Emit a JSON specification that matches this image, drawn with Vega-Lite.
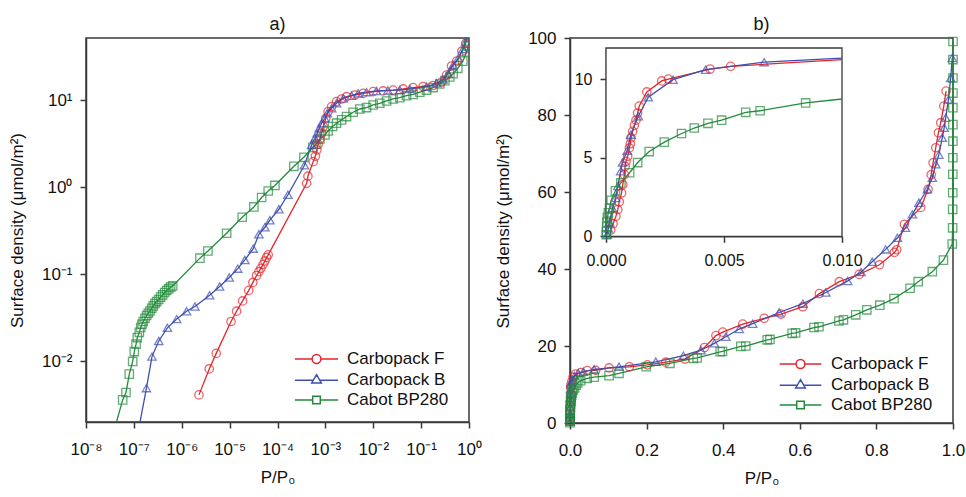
{
  "$schema": "https://vega.github.io/schema/vega-lite/v6.json",
  "background": "white",
  "padding": {"left": 7, "top": 14, "right": 0, "bottom": 0},
  "spacing": 10,
  "config": {
    "font": "Liberation Sans",
    "view": {"stroke": "#3a3a3a", "strokeWidth": 1.5},
    "axis": {"grid": false, "labelFlush": false, "domainColor": "#3a3a3a", "domainWidth": 1.5, "tickColor": "#3a3a3a", "tickWidth": 1.5, "tickSize": 6, "labelFontSize": 17, "labelColor": "#111111", "labelPadding": 8, "titleFontSize": 17, "titleFontWeight": "normal", "titleColor": "#111111"},
    "axisX": {"labelPadding": 13},
    "legend": {"labelFontSize": 17, "labelColor": "#111111", "padding": 0, "rowPadding": 2.5, "symbolSize": 64, "symbolStrokeWidth": 1.5},
    "title": {"fontSize": 18, "fontWeight": "normal", "anchor": "middle", "frame": "group", "color": "#111111"}
  },
  "resolve": {"scale": {"color": "independent", "shape": "independent"}, "legend": {"color": "independent", "shape": "independent"}},
  "datasets": {
    "a": [
      {"material": "Cabot BP280", "p": 3.49e-8, "density": 0.0013},
      {"material": "Cabot BP280", "p": 5.83e-8, "density": 0.00359},
      {"material": "Cabot BP280", "p": 6.84e-8, "density": 0.00437},
      {"material": "Cabot BP280", "p": 8.02e-8, "density": 0.0071},
      {"material": "Cabot BP280", "p": 9.44e-8, "density": 0.00993},
      {"material": "Cabot BP280", "p": 1.02e-7, "density": 0.0129},
      {"material": "Cabot BP280", "p": 1.11e-7, "density": 0.0157},
      {"material": "Cabot BP280", "p": 1.18e-7, "density": 0.0187},
      {"material": "Cabot BP280", "p": 1.30e-7, "density": 0.0215},
      {"material": "Cabot BP280", "p": 1.39e-7, "density": 0.0244},
      {"material": "Cabot BP280", "p": 1.48e-7, "density": 0.0266},
      {"material": "Cabot BP280", "p": 1.57e-7, "density": 0.0286},
      {"material": "Cabot BP280", "p": 1.71e-7, "density": 0.0312},
      {"material": "Cabot BP280", "p": 1.85e-7, "density": 0.0335},
      {"material": "Cabot BP280", "p": 2.00e-7, "density": 0.0356},
      {"material": "Cabot BP280", "p": 2.17e-7, "density": 0.0378},
      {"material": "Cabot BP280", "p": 2.36e-7, "density": 0.0406},
      {"material": "Cabot BP280", "p": 2.54e-7, "density": 0.0433},
      {"material": "Cabot BP280", "p": 2.76e-7, "density": 0.0461},
      {"material": "Cabot BP280", "p": 2.99e-7, "density": 0.0485},
      {"material": "Cabot BP280", "p": 3.30e-7, "density": 0.0512},
      {"material": "Cabot BP280", "p": 3.62e-7, "density": 0.0545},
      {"material": "Cabot BP280", "p": 3.99e-7, "density": 0.0578},
      {"material": "Cabot BP280", "p": 4.40e-7, "density": 0.0617},
      {"material": "Cabot BP280", "p": 4.84e-7, "density": 0.065},
      {"material": "Cabot BP280", "p": 5.33e-7, "density": 0.0678},
      {"material": "Cabot BP280", "p": 5.86e-7, "density": 0.071},
      {"material": "Cabot BP280", "p": 6.46e-7, "density": 0.0734},
      {"material": "Cabot BP280", "p": 2.40e-6, "density": 0.153},
      {"material": "Cabot BP280", "p": 3.52e-6, "density": 0.185},
      {"material": "Cabot BP280", "p": 8.65e-6, "density": 0.296},
      {"material": "Cabot BP280", "p": 1.83e-5, "density": 0.452},
      {"material": "Cabot BP280", "p": 3.21e-5, "density": 0.594},
      {"material": "Cabot BP280", "p": 4.66e-5, "density": 0.762},
      {"material": "Cabot BP280", "p": 6.40e-5, "density": 0.906},
      {"material": "Cabot BP280", "p": 8.83e-5, "density": 1.05},
      {"material": "Cabot BP280", "p": 2.20e-4, "density": 1.74},
      {"material": "Cabot BP280", "p": 3.56e-4, "density": 2.21},
      {"material": "Cabot BP280", "p": 5.48e-4, "density": 2.88},
      {"material": "Cabot BP280", "p": 6.34e-4, "density": 3.12},
      {"material": "Cabot BP280", "p": 7.67e-4, "density": 3.59},
      {"material": "Cabot BP280", "p": 9.77e-4, "density": 3.99},
      {"material": "Cabot BP280", "p": 1.14e-3, "density": 4.44},
      {"material": "Cabot BP280", "p": 1.41e-3, "density": 4.99},
      {"material": "Cabot BP280", "p": 1.71e-3, "density": 5.45},
      {"material": "Cabot BP280", "p": 2.18e-3, "density": 5.95},
      {"material": "Cabot BP280", "p": 2.77e-3, "density": 6.5},
      {"material": "Cabot BP280", "p": 3.80e-3, "density": 7.28},
      {"material": "Cabot BP280", "p": 5.25e-3, "density": 7.94},
      {"material": "Cabot BP280", "p": 7.24e-3, "density": 8.24},
      {"material": "Cabot BP280", "p": 9.95e-3, "density": 8.83},
      {"material": "Cabot BP280", "p": 0.0137, "density": 9.24},
      {"material": "Cabot BP280", "p": 0.019, "density": 9.82},
      {"material": "Cabot BP280", "p": 0.026, "density": 10.35},
      {"material": "Cabot BP280", "p": 0.0359, "density": 10.7},
      {"material": "Cabot BP280", "p": 0.0495, "density": 11.3},
      {"material": "Cabot BP280", "p": 0.0681, "density": 11.7},
      {"material": "Cabot BP280", "p": 0.094, "density": 12.4},
      {"material": "Cabot BP280", "p": 0.13, "density": 13.1},
      {"material": "Cabot BP280", "p": 0.178, "density": 14.0},
      {"material": "Cabot BP280", "p": 0.245, "density": 15.4},
      {"material": "Cabot BP280", "p": 0.313, "density": 16.8},
      {"material": "Cabot BP280", "p": 0.397, "density": 18.5},
      {"material": "Cabot BP280", "p": 0.466, "density": 20.2},
      {"material": "Cabot BP280", "p": 0.583, "density": 23.3},
      {"material": "Cabot BP280", "p": 0.743, "density": 28.2},
      {"material": "Cabot BP280", "p": 0.9, "density": 36},
      {"material": "Cabot BP280", "p": 0.97, "density": 42},
      {"material": "Cabot BP280", "p": 0.998, "density": 46.5},
      {"material": "Cabot BP280", "p": 0.9995, "density": 60},
      {"material": "Carbopack F", "p": 2.29e-6, "density": 0.0041},
      {"material": "Carbopack F", "p": 3.75e-6, "density": 0.00815},
      {"material": "Carbopack F", "p": 5.25e-6, "density": 0.0123},
      {"material": "Carbopack F", "p": 1.07e-5, "density": 0.0286},
      {"material": "Carbopack F", "p": 1.40e-5, "density": 0.0376},
      {"material": "Carbopack F", "p": 1.87e-5, "density": 0.0493},
      {"material": "Carbopack F", "p": 2.51e-5, "density": 0.0652},
      {"material": "Carbopack F", "p": 3.06e-5, "density": 0.0805},
      {"material": "Carbopack F", "p": 3.66e-5, "density": 0.0966},
      {"material": "Carbopack F", "p": 4.09e-5, "density": 0.107},
      {"material": "Carbopack F", "p": 4.50e-5, "density": 0.117},
      {"material": "Carbopack F", "p": 5.02e-5, "density": 0.13},
      {"material": "Carbopack F", "p": 5.46e-5, "density": 0.142},
      {"material": "Carbopack F", "p": 5.92e-5, "density": 0.156},
      {"material": "Carbopack F", "p": 6.40e-5, "density": 0.167},
      {"material": "Carbopack F", "p": 4.06e-4, "density": 1.11},
      {"material": "Carbopack F", "p": 4.32e-4, "density": 1.34},
      {"material": "Carbopack F", "p": 5.56e-4, "density": 1.97},
      {"material": "Carbopack F", "p": 6.18e-4, "density": 2.27},
      {"material": "Carbopack F", "p": 6.65e-4, "density": 2.69},
      {"material": "Carbopack F", "p": 7.08e-4, "density": 3.12},
      {"material": "Carbopack F", "p": 7.67e-4, "density": 3.56},
      {"material": "Carbopack F", "p": 8.34e-4, "density": 4.18},
      {"material": "Carbopack F", "p": 9.00e-4, "density": 4.99},
      {"material": "Carbopack F", "p": 1.02e-3, "density": 6.21},
      {"material": "Carbopack F", "p": 1.14e-3, "density": 7.41},
      {"material": "Carbopack F", "p": 1.35e-3, "density": 8.47},
      {"material": "Carbopack F", "p": 1.71e-3, "density": 9.66},
      {"material": "Carbopack F", "p": 2.18e-3, "density": 10.35},
      {"material": "Carbopack F", "p": 2.77e-3, "density": 11.0},
      {"material": "Carbopack F", "p": 4.13e-3, "density": 11.5},
      {"material": "Carbopack F", "p": 6.15e-3, "density": 12.0},
      {"material": "Carbopack F", "p": 9.95e-3, "density": 12.6},
      {"material": "Carbopack F", "p": 0.0161, "density": 12.8},
      {"material": "Carbopack F", "p": 0.026, "density": 13.1},
      {"material": "Carbopack F", "p": 0.0421, "density": 13.5},
      {"material": "Carbopack F", "p": 0.0681, "density": 14.0},
      {"material": "Carbopack F", "p": 0.11, "density": 14.4},
      {"material": "Carbopack F", "p": 0.178, "density": 14.8},
      {"material": "Carbopack F", "p": 0.267, "density": 16.2},
      {"material": "Carbopack F", "p": 0.339, "density": 19.5},
      {"material": "Carbopack F", "p": 0.432, "density": 24.8},
      {"material": "Carbopack F", "p": 0.556, "density": 28.3},
      {"material": "Carbopack F", "p": 0.708, "density": 36.7},
      {"material": "Carbopack F", "p": 0.857, "density": 45.5},
      {"material": "Carbopack F", "p": 0.93, "density": 60},
      {"material": "Carbopack F", "p": 0.98, "density": 86},
      {"material": "Carbopack B", "p": 1.16e-7, "density": 0.0013},
      {"material": "Carbopack B", "p": 1.83e-7, "density": 0.0049},
      {"material": "Carbopack B", "p": 2.39e-7, "density": 0.0113},
      {"material": "Carbopack B", "p": 3.31e-7, "density": 0.0171},
      {"material": "Carbopack B", "p": 5.02e-7, "density": 0.0242},
      {"material": "Carbopack B", "p": 7.84e-7, "density": 0.0305},
      {"material": "Carbopack B", "p": 1.26e-6, "density": 0.0376},
      {"material": "Carbopack B", "p": 1.89e-6, "density": 0.0426},
      {"material": "Carbopack B", "p": 3.82e-6, "density": 0.0574},
      {"material": "Carbopack B", "p": 6.18e-6, "density": 0.0723},
      {"material": "Carbopack B", "p": 9.82e-6, "density": 0.0917},
      {"material": "Carbopack B", "p": 1.48e-5, "density": 0.116},
      {"material": "Carbopack B", "p": 2.08e-5, "density": 0.146},
      {"material": "Carbopack B", "p": 3.11e-5, "density": 0.197},
      {"material": "Carbopack B", "p": 4.09e-5, "density": 0.288},
      {"material": "Carbopack B", "p": 5.46e-5, "density": 0.347},
      {"material": "Carbopack B", "p": 6.93e-5, "density": 0.418},
      {"material": "Carbopack B", "p": 1.07e-4, "density": 0.558},
      {"material": "Carbopack B", "p": 1.65e-4, "density": 0.82},
      {"material": "Carbopack B", "p": 3.65e-4, "density": 1.79},
      {"material": "Carbopack B", "p": 5.15e-4, "density": 3.06},
      {"material": "Carbopack B", "p": 6.04e-4, "density": 3.66},
      {"material": "Carbopack B", "p": 6.75e-4, "density": 4.18},
      {"material": "Carbopack B", "p": 7.43e-4, "density": 4.76},
      {"material": "Carbopack B", "p": 8.34e-4, "density": 5.45},
      {"material": "Carbopack B", "p": 9.77e-4, "density": 6.21},
      {"material": "Carbopack B", "p": 1.09e-3, "density": 7.1},
      {"material": "Carbopack B", "p": 1.35e-3, "density": 8.09},
      {"material": "Carbopack B", "p": 1.71e-3, "density": 9.24},
      {"material": "Carbopack B", "p": 2.36e-3, "density": 10.5},
      {"material": "Carbopack B", "p": 3.52e-3, "density": 11.3},
      {"material": "Carbopack B", "p": 4.84e-3, "density": 12.0},
      {"material": "Carbopack B", "p": 7.24e-3, "density": 12.4},
      {"material": "Carbopack B", "p": 0.0117, "density": 12.8},
      {"material": "Carbopack B", "p": 0.0202, "density": 13.0},
      {"material": "Carbopack B", "p": 0.0359, "density": 13.1},
      {"material": "Carbopack B", "p": 0.0581, "density": 13.5},
      {"material": "Carbopack B", "p": 0.13, "density": 14.3},
      {"material": "Carbopack B", "p": 0.21, "density": 15.7},
      {"material": "Carbopack B", "p": 0.288, "density": 17.3},
      {"material": "Carbopack B", "p": 0.366, "density": 20.2},
      {"material": "Carbopack B", "p": 0.466, "density": 25.4},
      {"material": "Carbopack B", "p": 0.6, "density": 30.7},
      {"material": "Carbopack B", "p": 0.75, "density": 38.8},
      {"material": "Carbopack B", "p": 0.85, "density": 47.5},
      {"material": "Carbopack B", "p": 0.95, "density": 66},
      {"material": "Carbopack B", "p": 0.99, "density": 88}
    ],
    "b": [
      {"material": "Carbopack F", "p": 0.0002, "density": 0.5},
      {"material": "Carbopack F", "p": 0.0004, "density": 1.5},
      {"material": "Carbopack F", "p": 0.0006, "density": 3.0},
      {"material": "Carbopack F", "p": 0.0008, "density": 4.2},
      {"material": "Carbopack F", "p": 0.001, "density": 5.6},
      {"material": "Carbopack F", "p": 0.0013, "density": 7.5},
      {"material": "Carbopack F", "p": 0.0017, "density": 9.2},
      {"material": "Carbopack F", "p": 0.0025, "density": 9.9},
      {"material": "Carbopack F", "p": 0.005, "density": 10.8},
      {"material": "Carbopack F", "p": 0.008, "density": 11.9},
      {"material": "Carbopack F", "p": 0.014, "density": 12.7},
      {"material": "Carbopack F", "p": 0.028, "density": 13.1},
      {"material": "Carbopack F", "p": 0.045, "density": 13.6},
      {"material": "Carbopack F", "p": 0.067, "density": 13.65},
      {"material": "Carbopack F", "p": 0.102, "density": 14.3},
      {"material": "Carbopack F", "p": 0.155, "density": 14.6},
      {"material": "Carbopack F", "p": 0.202, "density": 15.1},
      {"material": "Carbopack F", "p": 0.25, "density": 15.8},
      {"material": "Carbopack F", "p": 0.3, "density": 16.6},
      {"material": "Carbopack F", "p": 0.351, "density": 19.6},
      {"material": "Carbopack F", "p": 0.381, "density": 22.7},
      {"material": "Carbopack F", "p": 0.399, "density": 23.6},
      {"material": "Carbopack F", "p": 0.451, "density": 25.7},
      {"material": "Carbopack F", "p": 0.507, "density": 27.2},
      {"material": "Carbopack F", "p": 0.551, "density": 28.3},
      {"material": "Carbopack F", "p": 0.608, "density": 30.2},
      {"material": "Carbopack F", "p": 0.651, "density": 33.6},
      {"material": "Carbopack F", "p": 0.703, "density": 36.7},
      {"material": "Carbopack F", "p": 0.755, "density": 38.6},
      {"material": "Carbopack F", "p": 0.808, "density": 41.1},
      {"material": "Carbopack F", "p": 0.847, "density": 44.3},
      {"material": "Carbopack F", "p": 0.853, "density": 45.0},
      {"material": "Carbopack F", "p": 0.873, "density": 51.6},
      {"material": "Carbopack F", "p": 0.916, "density": 56.0},
      {"material": "Carbopack F", "p": 0.935, "density": 60.7},
      {"material": "Carbopack F", "p": 0.943, "density": 64.5},
      {"material": "Carbopack F", "p": 0.948, "density": 67.6},
      {"material": "Carbopack F", "p": 0.955, "density": 71.5},
      {"material": "Carbopack F", "p": 0.962, "density": 75.4},
      {"material": "Carbopack F", "p": 0.968, "density": 78.0},
      {"material": "Carbopack F", "p": 0.976, "density": 82.3},
      {"material": "Carbopack F", "p": 0.982, "density": 86.2},
      {"material": "Carbopack B", "p": 0.0001, "density": 0.3},
      {"material": "Carbopack B", "p": 0.0003, "density": 1.8},
      {"material": "Carbopack B", "p": 0.0004, "density": 2.4},
      {"material": "Carbopack B", "p": 0.0006, "density": 4.1},
      {"material": "Carbopack B", "p": 0.0009, "density": 5.5},
      {"material": "Carbopack B", "p": 0.00105, "density": 6.5},
      {"material": "Carbopack B", "p": 0.0014, "density": 7.7},
      {"material": "Carbopack B", "p": 0.0018, "density": 8.9},
      {"material": "Carbopack B", "p": 0.0028, "density": 10.0},
      {"material": "Carbopack B", "p": 0.0042, "density": 10.6},
      {"material": "Carbopack B", "p": 0.0067, "density": 11.1},
      {"material": "Carbopack B", "p": 0.012, "density": 12.2},
      {"material": "Carbopack B", "p": 0.022, "density": 12.9},
      {"material": "Carbopack B", "p": 0.035, "density": 13.3},
      {"material": "Carbopack B", "p": 0.063, "density": 13.9},
      {"material": "Carbopack B", "p": 0.128, "density": 14.6},
      {"material": "Carbopack B", "p": 0.224, "density": 15.9},
      {"material": "Carbopack B", "p": 0.296, "density": 17.5},
      {"material": "Carbopack B", "p": 0.342, "density": 18.9},
      {"material": "Carbopack B", "p": 0.377, "density": 20.7},
      {"material": "Carbopack B", "p": 0.407, "density": 22.4},
      {"material": "Carbopack B", "p": 0.442, "density": 24.4},
      {"material": "Carbopack B", "p": 0.477, "density": 25.8},
      {"material": "Carbopack B", "p": 0.546, "density": 28.7},
      {"material": "Carbopack B", "p": 0.608, "density": 31.0},
      {"material": "Carbopack B", "p": 0.668, "density": 33.9},
      {"material": "Carbopack B", "p": 0.725, "density": 36.9},
      {"material": "Carbopack B", "p": 0.76, "density": 39.2},
      {"material": "Carbopack B", "p": 0.789, "density": 41.9},
      {"material": "Carbopack B", "p": 0.824, "density": 45.1},
      {"material": "Carbopack B", "p": 0.855, "density": 48.1},
      {"material": "Carbopack B", "p": 0.876, "density": 50.7},
      {"material": "Carbopack B", "p": 0.894, "density": 54.2},
      {"material": "Carbopack B", "p": 0.911, "density": 57.2},
      {"material": "Carbopack B", "p": 0.933, "density": 60.7},
      {"material": "Carbopack B", "p": 0.946, "density": 63.7},
      {"material": "Carbopack B", "p": 0.955, "density": 67.2},
      {"material": "Carbopack B", "p": 0.963, "density": 69.7},
      {"material": "Carbopack B", "p": 0.972, "density": 74.1},
      {"material": "Carbopack B", "p": 0.977, "density": 76.7},
      {"material": "Carbopack B", "p": 0.981, "density": 79.3},
      {"material": "Carbopack B", "p": 0.988, "density": 84.0},
      {"material": "Carbopack B", "p": 0.994, "density": 89.6},
      {"material": "Carbopack B", "p": 0.998, "density": 94.8},
      {"material": "Cabot BP280", "p": 0.00001, "density": 0.1},
      {"material": "Cabot BP280", "p": 0.00003, "density": 0.6},
      {"material": "Cabot BP280", "p": 0.00006, "density": 1.2},
      {"material": "Cabot BP280", "p": 0.0001, "density": 1.5},
      {"material": "Cabot BP280", "p": 0.00022, "density": 2.3},
      {"material": "Cabot BP280", "p": 0.0004, "density": 2.9},
      {"material": "Cabot BP280", "p": 0.00063, "density": 3.4},
      {"material": "Cabot BP280", "p": 0.001, "density": 4.05},
      {"material": "Cabot BP280", "p": 0.00134, "density": 4.7},
      {"material": "Cabot BP280", "p": 0.00183, "density": 5.4},
      {"material": "Cabot BP280", "p": 0.00247, "density": 6.0},
      {"material": "Cabot BP280", "p": 0.0032, "density": 6.55},
      {"material": "Cabot BP280", "p": 0.00432, "density": 7.2},
      {"material": "Cabot BP280", "p": 0.00592, "density": 7.9},
      {"material": "Cabot BP280", "p": 0.00846, "density": 8.5},
      {"material": "Cabot BP280", "p": 0.012, "density": 9.1},
      {"material": "Cabot BP280", "p": 0.016, "density": 9.8},
      {"material": "Cabot BP280", "p": 0.02, "density": 10.4},
      {"material": "Cabot BP280", "p": 0.028, "density": 11.0},
      {"material": "Cabot BP280", "p": 0.045, "density": 11.6},
      {"material": "Cabot BP280", "p": 0.063, "density": 11.9},
      {"material": "Cabot BP280", "p": 0.102, "density": 12.3},
      {"material": "Cabot BP280", "p": 0.128, "density": 12.9},
      {"material": "Cabot BP280", "p": 0.199, "density": 14.6},
      {"material": "Cabot BP280", "p": 0.261, "density": 15.5},
      {"material": "Cabot BP280", "p": 0.322, "density": 16.8},
      {"material": "Cabot BP280", "p": 0.332, "density": 16.9},
      {"material": "Cabot BP280", "p": 0.392, "density": 18.5},
      {"material": "Cabot BP280", "p": 0.398, "density": 18.6},
      {"material": "Cabot BP280", "p": 0.446, "density": 19.9},
      {"material": "Cabot BP280", "p": 0.459, "density": 20.0},
      {"material": "Cabot BP280", "p": 0.515, "density": 21.6},
      {"material": "Cabot BP280", "p": 0.522, "density": 21.7},
      {"material": "Cabot BP280", "p": 0.58, "density": 23.3},
      {"material": "Cabot BP280", "p": 0.589, "density": 23.4},
      {"material": "Cabot BP280", "p": 0.637, "density": 24.8},
      {"material": "Cabot BP280", "p": 0.65, "density": 25.0},
      {"material": "Cabot BP280", "p": 0.702, "density": 26.5},
      {"material": "Cabot BP280", "p": 0.714, "density": 26.8},
      {"material": "Cabot BP280", "p": 0.746, "density": 28.1},
      {"material": "Cabot BP280", "p": 0.775, "density": 29.4},
      {"material": "Cabot BP280", "p": 0.809, "density": 30.6},
      {"material": "Cabot BP280", "p": 0.846, "density": 32.3},
      {"material": "Cabot BP280", "p": 0.888, "density": 35.0},
      {"material": "Cabot BP280", "p": 0.909, "density": 36.7},
      {"material": "Cabot BP280", "p": 0.946, "density": 39.3},
      {"material": "Cabot BP280", "p": 0.975, "density": 42.3},
      {"material": "Cabot BP280", "p": 0.998, "density": 46.5},
      {"material": "Cabot BP280", "p": 0.99905, "density": 50.7},
      {"material": "Cabot BP280", "p": 0.9992, "density": 55.5},
      {"material": "Cabot BP280", "p": 0.99935, "density": 59.8},
      {"material": "Cabot BP280", "p": 0.9995, "density": 64.6},
      {"material": "Cabot BP280", "p": 0.9996, "density": 68.9},
      {"material": "Cabot BP280", "p": 0.9997, "density": 73.2},
      {"material": "Cabot BP280", "p": 0.99975, "density": 77.5},
      {"material": "Cabot BP280", "p": 0.9998, "density": 81.9},
      {"material": "Cabot BP280", "p": 0.99985, "density": 85.7},
      {"material": "Cabot BP280", "p": 0.9999, "density": 89.6},
      {"material": "Cabot BP280", "p": 0.99995, "density": 94.4},
      {"material": "Cabot BP280", "p": 1.0, "density": 99.1}
    ],
    "inset": [
      {"material": "Carbopack F", "p": 0.0002, "density": 0.4},
      {"material": "Carbopack F", "p": 0.0003, "density": 0.8},
      {"material": "Carbopack F", "p": 0.00042, "density": 1.27},
      {"material": "Carbopack F", "p": 0.0005, "density": 1.7},
      {"material": "Carbopack F", "p": 0.00056, "density": 2.2},
      {"material": "Carbopack F", "p": 0.00066, "density": 2.76},
      {"material": "Carbopack F", "p": 0.00071, "density": 3.29},
      {"material": "Carbopack F", "p": 0.00078, "density": 3.93},
      {"material": "Carbopack F", "p": 0.00081, "density": 4.46},
      {"material": "Carbopack F", "p": 0.00085, "density": 4.78},
      {"material": "Carbopack F", "p": 0.00092, "density": 5.1},
      {"material": "Carbopack F", "p": 0.00099, "density": 5.63},
      {"material": "Carbopack F", "p": 0.00103, "density": 5.9},
      {"material": "Carbopack F", "p": 0.00106, "density": 6.27},
      {"material": "Carbopack F", "p": 0.00113, "density": 6.69},
      {"material": "Carbopack F", "p": 0.0012, "density": 7.07},
      {"material": "Carbopack F", "p": 0.00127, "density": 7.4},
      {"material": "Carbopack F", "p": 0.00134, "density": 7.86},
      {"material": "Carbopack F", "p": 0.00141, "density": 8.3},
      {"material": "Carbopack F", "p": 0.00173, "density": 9.2},
      {"material": "Carbopack F", "p": 0.00236, "density": 9.9},
      {"material": "Carbopack F", "p": 0.00264, "density": 10.02},
      {"material": "Carbopack F", "p": 0.00441, "density": 10.66},
      {"material": "Carbopack F", "p": 0.00528, "density": 10.83},
      {"material": "Carbopack F", "p": 0.01, "density": 11.26},
      {"material": "Carbopack B", "p": 0.00005, "density": 0.1},
      {"material": "Carbopack B", "p": 0.0001, "density": 0.5},
      {"material": "Carbopack B", "p": 0.00015, "density": 0.9},
      {"material": "Carbopack B", "p": 0.00027, "density": 1.8},
      {"material": "Carbopack B", "p": 0.00041, "density": 2.44},
      {"material": "Carbopack B", "p": 0.0005, "density": 3.2},
      {"material": "Carbopack B", "p": 0.00062, "density": 4.14},
      {"material": "Carbopack B", "p": 0.0007, "density": 4.7},
      {"material": "Carbopack B", "p": 0.0009, "density": 5.46},
      {"material": "Carbopack B", "p": 0.00105, "density": 6.48},
      {"material": "Carbopack B", "p": 0.00137, "density": 7.65},
      {"material": "Carbopack B", "p": 0.00179, "density": 8.86},
      {"material": "Carbopack B", "p": 0.00284, "density": 9.98},
      {"material": "Carbopack B", "p": 0.00422, "density": 10.62},
      {"material": "Carbopack B", "p": 0.0067, "density": 11.1},
      {"material": "Carbopack B", "p": 0.01, "density": 11.36},
      {"material": "Cabot BP280", "p": 0.00001, "density": 0.1},
      {"material": "Cabot BP280", "p": 0.00002, "density": 0.3},
      {"material": "Cabot BP280", "p": 0.00003, "density": 0.6},
      {"material": "Cabot BP280", "p": 0.00004, "density": 0.9},
      {"material": "Cabot BP280", "p": 0.00006, "density": 1.2},
      {"material": "Cabot BP280", "p": 0.0001, "density": 1.5},
      {"material": "Cabot BP280", "p": 0.00015, "density": 1.8},
      {"material": "Cabot BP280", "p": 0.00022, "density": 2.3},
      {"material": "Cabot BP280", "p": 0.0004, "density": 2.9},
      {"material": "Cabot BP280", "p": 0.00063, "density": 3.4},
      {"material": "Cabot BP280", "p": 0.001, "density": 4.05},
      {"material": "Cabot BP280", "p": 0.00134, "density": 4.7},
      {"material": "Cabot BP280", "p": 0.00183, "density": 5.4},
      {"material": "Cabot BP280", "p": 0.00247, "density": 6.0},
      {"material": "Cabot BP280", "p": 0.0032, "density": 6.55},
      {"material": "Cabot BP280", "p": 0.00374, "density": 6.9},
      {"material": "Cabot BP280", "p": 0.00432, "density": 7.2},
      {"material": "Cabot BP280", "p": 0.0049, "density": 7.4},
      {"material": "Cabot BP280", "p": 0.00592, "density": 7.9},
      {"material": "Cabot BP280", "p": 0.00653, "density": 8.0},
      {"material": "Cabot BP280", "p": 0.00846, "density": 8.5},
      {"material": "Cabot BP280", "p": 0.01, "density": 8.75}
    ]
  },
  "hconcat": [
    {
      "width": 383,
      "height": 384,
      "title": {"text": "a)", "offset": 4},
      "layer": [
        {
          "data": {"name": "a"},
          "mark": {"type": "line", "clip": true, "strokeWidth": 1.3},
          "encoding": {
            "x": {"field": "p", "type": "quantitative", "scale": {"type": "log", "domain": [1e-8, 1], "nice": false},
                  "axis": {"title": "P/P₀", "titlePadding": 12, "values": [1e-8, 1e-7, 1e-6, 1e-5, 1e-4, 1e-3, 1e-2, 1e-1, 1],
                           "labelExpr": "'10' + (datum.value < 0.5 ? '⁻' : '') + ['⁰','¹','²','³','⁴','⁵','⁶','⁷','⁸','⁹'][abs(round(log(datum.value)/LN10))]"}},
            "y": {"field": "density", "type": "quantitative", "scale": {"type": "log", "domain": [0.002, 52], "nice": false},
                  "axis": {"title": "Surface density (μmol/m²)", "titlePadding": 15, "values": [0.01, 0.1, 1, 10],
                           "labelExpr": "'10' + (datum.value < 0.5 ? '⁻' : '') + ['⁰','¹','²','³','⁴','⁵','⁶','⁷','⁸','⁹'][abs(round(log(datum.value)/LN10))]"}},
            "color": {"field": "material", "type": "nominal",
                      "scale": {"domain": ["Carbopack F", "Carbopack B", "Cabot BP280"], "range": ["#e4262c", "#3d4fb3", "#228b3b"]},
                      "legend": {"title": null, "orient": "none", "legendX": 222, "legendY": 312.5, "labelOffset": 22,
                                 "encode": {"symbols": {"update": {
                                   "shape": {"signal": "datum.value === 'Carbopack F' ? 'M-5.4,0H-1.1M1.1,0H5.4M1.1,0A1.1,1.1,0,1,1,-1.1,0A1.1,1.1,0,1,1,1.1,0' : datum.value === 'Carbopack B' ? 'M-5.4,0.2H-0.8M0.8,0.2H5.4M0,-1.2L1.2,0.85L-1.2,0.85Z' : 'M-5.4,0H-0.95M0.95,0H5.4M-0.95,-0.95H0.95V0.95H-0.95Z'"},
                                   "stroke": {"signal": "datum.value === 'Carbopack F' ? '#e4262c' : datum.value === 'Carbopack B' ? '#3d4fb3' : '#228b3b'"},
                                   "fill": {"value": "transparent"},
                                   "strokeWidth": {"value": 1.5},
                                   "size": {"value": 64}
                                 }}}}},
            "order": {"field": "density", "type": "quantitative"}
          }
        },
        {
          "data": {"name": "a"},
          "mark": {"type": "point", "clip": true, "filled": false, "size": 70, "strokeWidth": 1.3},
          "encoding": {
            "x": {"field": "p", "type": "quantitative", "scale": {"type": "log", "domain": [1e-8, 1], "nice": false}},
            "y": {"field": "density", "type": "quantitative", "scale": {"type": "log", "domain": [0.002, 52], "nice": false}},
            "color": {"field": "material", "type": "nominal", "legend": null},
            "shape": {"field": "material", "type": "nominal",
                      "scale": {"domain": ["Carbopack B", "Carbopack F", "Cabot BP280"], "range": ["triangle-up", "circle", "square"]},
                      "legend": null}
          }
        }
      ]
    },
    {
      "width": 383,
      "height": 385,
      "title": {"text": "b)", "offset": -4.5},
      "resolve": {"scale": {"x": "independent", "y": "independent"}},
      "layer": [
        {
          "layer": [
            {
              "data": {"name": "b"},
              "mark": {"type": "line", "strokeWidth": 1.3},
              "encoding": {
                "x": {"field": "p", "type": "quantitative", "scale": {"domain": [0, 1], "nice": false},
                      "axis": {"title": "P/P₀", "titlePadding": 12, "values": [0, 0.2, 0.4, 0.6, 0.8, 1], "format": ".1f"}},
                "y": {"field": "density", "type": "quantitative", "scale": {"domain": [0, 100], "nice": false},
                      "axis": {"title": "Surface density (μmol/m²)", "titlePadding": 15, "values": [0, 20, 40, 60, 80, 100], "format": "d"}},
                "color": {"field": "material", "type": "nominal",
                          "scale": {"domain": ["Carbopack F", "Carbopack B", "Cabot BP280"], "range": ["#e4262c", "#3d4fb3", "#228b3b"]},
                          "legend": {"title": null, "orient": "none", "legendX": 222, "legendY": 317.5, "labelOffset": 22,
                                     "encode": {"symbols": {"update": {
                                       "shape": {"signal": "datum.value === 'Carbopack F' ? 'M-5.2,0H-1.1M1.1,0H5.2M1.1,0A1.1,1.1,0,1,1,-1.1,0A1.1,1.1,0,1,1,1.1,0' : datum.value === 'Carbopack B' ? 'M-5.2,0.2H-0.8M0.8,0.2H5.2M0,-1.2L1.2,0.85L-1.2,0.85Z' : 'M-5.2,0H-0.95M0.95,0H5.2M-0.95,-0.95H0.95V0.95H-0.95Z'"},
                                       "stroke": {"signal": "datum.value === 'Carbopack F' ? '#e4262c' : datum.value === 'Carbopack B' ? '#3d4fb3' : '#228b3b'"},
                                       "fill": {"value": "transparent"},
                                       "strokeWidth": {"value": 1.5},
                                       "size": {"value": 64}
                                     }}}}},
                "order": {"field": "density", "type": "quantitative"}
              }
            },
            {
              "data": {"name": "b"},
              "mark": {"type": "point", "filled": false, "size": 70, "strokeWidth": 1.3},
              "encoding": {
                "x": {"field": "p", "type": "quantitative", "scale": {"domain": [0, 1], "nice": false}},
                "y": {"field": "density", "type": "quantitative", "scale": {"domain": [0, 100], "nice": false}},
                "color": {"field": "material", "type": "nominal", "legend": null},
                "shape": {"field": "material", "type": "nominal",
                          "scale": {"domain": ["Carbopack B", "Carbopack F", "Cabot BP280"], "range": ["triangle-up", "circle", "square"]},
                          "legend": null}
              }
            }
          ]
        },
        {
          "layer": [
            {
              "data": {"values": [{}]},
              "mark": {"type": "rect", "fill": "white", "stroke": "#3a3a3a", "strokeWidth": 1.3},
              "encoding": {
                "x": {"datum": 0, "type": "quantitative", "scale": {"domain": [0, 0.01], "range": [36, 272], "nice": false, "zero": false},
                      "axis": {"title": null, "orient": "bottom", "offset": -186.7, "values": [0, 0.005, 0.01], "format": ".3f", "labelFontSize": 16, "labelPadding": 10}},
                "x2": {"datum": 0.01},
                "y": {"datum": 0, "type": "quantitative", "scale": {"domain": [0, 12], "range": [198.3, 10], "nice": false, "zero": false},
                      "axis": {"title": null, "orient": "left", "offset": -36, "values": [0, 5, 10], "format": "d", "labelFontSize": 16}},
                "y2": {"datum": 12}
              }
            },
            {
              "data": {"name": "inset"},
              "mark": {"type": "line", "strokeWidth": 1.3},
              "encoding": {
                "x": {"field": "p", "type": "quantitative", "scale": {"domain": [0, 0.01], "range": [36, 272], "nice": false, "zero": false},
                      "axis": {"title": null, "orient": "bottom", "offset": -186.7, "values": [0, 0.005, 0.01], "format": ".3f", "labelFontSize": 16, "labelPadding": 10}},
                "y": {"field": "density", "type": "quantitative", "scale": {"domain": [0, 12], "range": [198.3, 10], "nice": false, "zero": false},
                      "axis": {"title": null, "orient": "left", "offset": -36, "values": [0, 5, 10], "format": "d", "labelFontSize": 16}},
                "color": {"field": "material", "type": "nominal", "legend": null},
                "order": {"field": "density", "type": "quantitative"}
              }
            },
            {
              "data": {"name": "inset"},
              "transform": [{"filter": "datum.p < 0.0099"}],
              "mark": {"type": "point", "filled": false, "size": 70, "strokeWidth": 1.3},
              "encoding": {
                "x": {"field": "p", "type": "quantitative", "scale": {"domain": [0, 0.01], "range": [36, 272], "nice": false, "zero": false},
                      "axis": {"title": null, "orient": "bottom", "offset": -186.7, "values": [0, 0.005, 0.01], "format": ".3f", "labelFontSize": 16, "labelPadding": 10}},
                "y": {"field": "density", "type": "quantitative", "scale": {"domain": [0, 12], "range": [198.3, 10], "nice": false, "zero": false},
                      "axis": {"title": null, "orient": "left", "offset": -36, "values": [0, 5, 10], "format": "d", "labelFontSize": 16}},
                "color": {"field": "material", "type": "nominal", "legend": null},
                "shape": {"field": "material", "type": "nominal",
                          "scale": {"domain": ["Carbopack B", "Carbopack F", "Cabot BP280"], "range": ["triangle-up", "circle", "square"]},
                          "legend": null}
              }
            }
          ]
        }
      ]
    }
  ]
}
